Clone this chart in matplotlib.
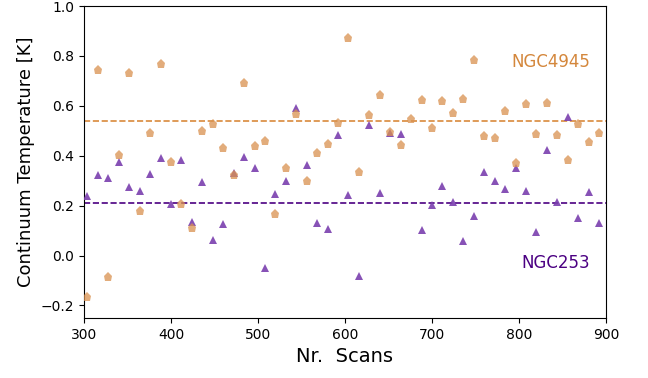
import numpy as np
import matplotlib
matplotlib.use("Agg")
import matplotlib.pyplot as plt

scans = np.arange(304, 893, 12)

ngc4945 = [-0.167, 0.745, -0.085, 0.404, 0.731, 0.179, 0.493, 0.768, 0.373, 0.208,
           0.109, 0.499, 0.529, 0.432, 0.324, 0.693, 0.441, 0.461, 0.167, 0.349,
           0.567, 0.299, 0.409, 0.447, 0.531, 0.873, 0.333, 0.563, 0.643, 0.494,
           0.443, 0.547, 0.623, 0.513, 0.621, 0.571, 0.629, 0.785, 0.480, 0.472,
           0.579, 0.371, 0.607, 0.489, 0.612, 0.484, 0.381, 0.527, 0.455, 0.491]

ngc253 = [0.240, 0.321, 0.312, 0.375, 0.275, 0.260, 0.327, 0.389, 0.205, 0.381,
          0.135, 0.296, 0.064, 0.127, 0.331, 0.395, 0.349, -0.051, 0.248, 0.300,
          0.591, 0.363, 0.131, 0.108, 0.484, 0.243, -0.084, 0.525, 0.251, 0.491,
          0.488, np.nan, 0.101, 0.201, 0.280, 0.215, 0.059, 0.160, 0.336, 0.300,
          0.268, 0.349, 0.260, 0.093, 0.421, 0.215, 0.555, 0.152, 0.253, 0.132]

mean_4945 = 0.541
mean_253 = 0.212

fig = plt.figure(figsize=(6.48, 3.78), dpi=100)
ax = fig.add_axes([0.1296, 0.159, 0.8056, 0.825])

ax.plot(scans, ngc253, linestyle='none', marker='^', markersize=6.2,
        color='#7a3fae', alpha=0.9, markeredgewidth=0, zorder=3)
ax.plot(scans, ngc4945, linestyle='none', marker='p', markersize=6.6,
        color='#d9914f', alpha=0.75, markeredgewidth=0, zorder=4)

ax.axhline(mean_4945, color='#d98a3c', linestyle='--', linewidth=1.2, zorder=2)
ax.axhline(mean_253, color='#4b0082', linestyle='--', linewidth=1.2, zorder=2)

ax.text(882, 0.775, 'NGC4945', color='#d4873c', fontsize=12, ha='right', va='center')
ax.text(882, -0.028, 'NGC253', color='#4b0082', fontsize=12, ha='right', va='center')

ax.set_xlim(300, 900)
ax.set_ylim(-0.25, 1.0)
ax.set_yticks(np.arange(-0.2, 1.01, 0.2))
ax.set_xticks(np.arange(300, 901, 100))
ax.tick_params(labelsize=10, direction='out', length=3.5)
ax.set_xlabel('Nr.  Scans', fontsize=14)
ax.set_ylabel('Continuum Temperature [K]', fontsize=13)

fig.savefig('out.png', dpi=100)
